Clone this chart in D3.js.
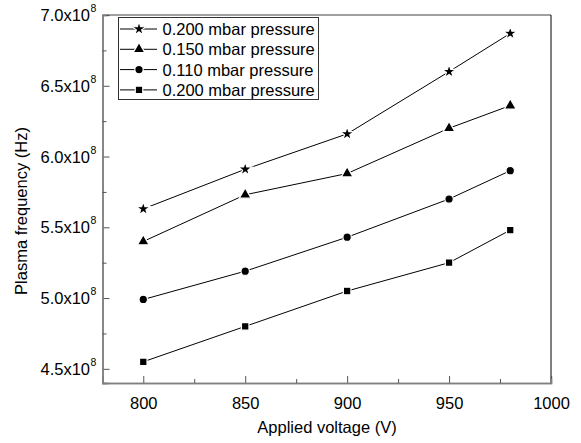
<!DOCTYPE html>
<html><head><meta charset="utf-8">
<script src="https://cdn.jsdelivr.net/npm/d3@7"></script>
<style>body{margin:0;background:#fff}svg{display:block}text{font-family:"Liberation Sans",Arial,sans-serif}</style>
</head><body>
<svg id="c" width="581" height="443"></svg>
<script>
const voltages = [800, 850, 900, 950, 980];
const seriesNames = ["0.200 mbar pressure", "0.150 mbar pressure", "0.110 mbar pressure", "0.200 mbar pressure"];
const stars200 = [5.63e8, 5.91e8, 6.16e8, 6.60e8, 6.87e8];
const tri150 = [5.40e8, 5.73e8, 5.88e8, 6.20e8, 6.36e8];
const circ110 = [4.99e8, 5.19e8, 5.43e8, 5.70e8, 5.90e8];
const sq200 = [4.55e8, 4.80e8, 5.05e8, 5.25e8, 5.48e8];
const xTicks = [800, 850, 900, 950, 1000];
const xMinor = [825, 875, 925, 975];
const yTicks = [4.5e8, 5.0e8, 5.5e8, 6.0e8, 6.5e8, 7.0e8];
const yMinor = [4.75e8, 5.25e8, 5.75e8, 6.25e8, 6.75e8];
const xTitle = "Applied voltage (V)";
const yTitle = "Plasma frequency (Hz)";

const svg = d3.select("#c");
const L = 102.5, R = 551, T = 15, B = 383;
const x = d3.scaleLinear().domain([780, 1000]).range([L, R]);
const y = d3.scaleLinear().domain([4.4e8, 7.0e8]).range([B, T]);

const series = [
  {name: seriesNames[0], vals: stars200, sym: d3.symbolStar, size: 60},
  {name: seriesNames[1], vals: tri150, sym: d3.symbolTriangle, size: 60},
  {name: seriesNames[2], vals: circ110, sym: d3.symbolCircle, size: 56},
  {name: seriesNames[3], vals: sq200, sym: d3.symbolSquare, size: 56}
];

// frame
svg.append("line").attr("x1", L).attr("x2", R).attr("y1", T).attr("y2", T).attr("stroke", "#808080").attr("stroke-width", 1.5);
svg.append("line").attr("x1", R).attr("x2", R).attr("y1", T).attr("y2", B).attr("stroke", "#000").attr("stroke-width", 1);

// axes
const fs = "16.5px";
const gx = svg.append("g").attr("transform", `translate(0,${B})`)
  .call(d3.axisBottom(x).tickValues(xTicks).tickSize(-7).tickPadding(14).tickFormat(d3.format("d")));
gx.selectAll("text").attr("font-size", fs).attr("fill", "#000");
svg.append("g").attr("transform", `translate(0,${B})`)
  .call(d3.axisBottom(x).tickValues(xMinor).tickSize(-4).tickFormat(""));

const gy = svg.append("g").attr("transform", `translate(${L},0)`)
  .call(d3.axisLeft(y).tickValues(yTicks).tickSize(-7).tickPadding(14).tickFormat(""));
svg.append("g").attr("transform", `translate(${L},0)`)
  .call(d3.axisLeft(y).tickValues(yMinor).tickSize(-4).tickFormat(""));

svg.selectAll(".domain").attr("stroke", "#808080").attr("stroke-width", 1.5);
svg.selectAll(".tick line").attr("stroke", "#555").attr("stroke-width", 1);

// y tick labels with superscript
const yl = svg.append("g");
yTicks.forEach(v => {
  const t = yl.append("text").attr("x", 90).attr("y", y(v) + 6).attr("text-anchor", "end").attr("font-size", fs);
  t.text((v / 1e8).toFixed(1) + "x10");
  yl.append("text").attr("x", 90.5).attr("y", y(v) - 3).attr("font-size", "10.5px").text("8");
});

// titles
svg.append("text").attr("x", 327).attr("y", 433).attr("text-anchor", "middle").attr("font-size", fs).text(xTitle);
svg.append("text").attr("transform", "translate(27,211) rotate(-90)").attr("text-anchor", "middle").attr("font-size", fs).text(yTitle);

// lines and markers
const line = d3.line().x((d, i) => x(voltages[i])).y(d => y(d));
series.forEach(s => {
  svg.append("path").datum(s.vals).attr("d", line).attr("fill", "none").attr("stroke", "#000").attr("stroke-width", 1);
  svg.selectAll(null).data(s.vals).enter().append("path")
    .attr("transform", (d, i) => `translate(${x(voltages[i])},${y(d)})`)
    .attr("d", d3.symbol().type(s.sym).size(s.size))
    .attr("fill", "#000").attr("stroke", "#fff").attr("stroke-width", 1.2);
});

// legend
const lg = svg.append("g");
lg.append("rect").attr("x", 118.5).attr("y", 17.5).attr("width", 200).attr("height", 82)
  .attr("fill", "#fff").attr("stroke", "#333").attr("stroke-width", 1);
series.forEach((s, i) => {
  const cy = 29 + i * 20.3;
  lg.append("line").attr("x1", 120).attr("x2", 157).attr("y1", cy).attr("y2", cy).attr("stroke", "#000").attr("stroke-width", 1);
  lg.append("path").attr("transform", `translate(139,${cy})`).attr("d", d3.symbol().type(s.sym).size(s.size))
    .attr("fill", "#000").attr("stroke", "#fff").attr("stroke-width", 1.2);
  lg.append("text").attr("x", 162.5).attr("y", cy + 6).attr("font-size", fs).text(s.name);
});
</script>
</body></html>
